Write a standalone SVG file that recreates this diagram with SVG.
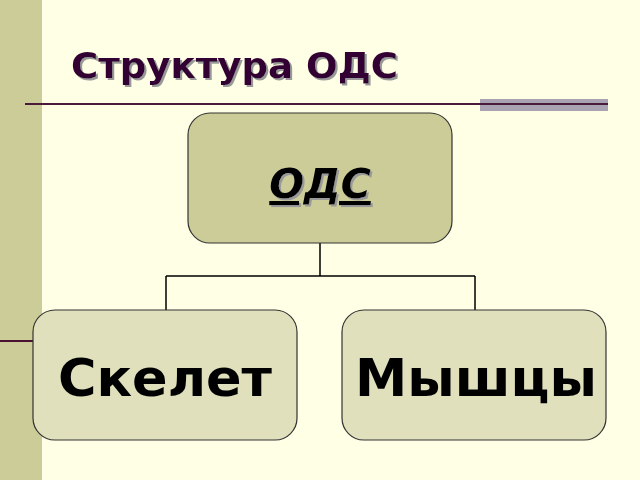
<svg xmlns="http://www.w3.org/2000/svg" width="640" height="480" viewBox="0 0 640 480">
<defs>
<filter id="ds" x="-10%" y="-20%" width="130%" height="150%">
<feOffset in="SourceAlpha" dx="2" dy="2" result="o"/>
<feFlood flood-color="#999"/>
<feComposite in2="o" operator="in" result="s"/>
<feMerge><feMergeNode in="s"/><feMergeNode in="SourceGraphic"/></feMerge>
</filter>
</defs>
<style>
.box{stroke:#333;stroke-width:1.2}
.lbl{font-family:"DejaVu Sans","Liberation Sans",sans-serif;font-weight:bold;text-anchor:middle;fill:#000}
.conn{fill:none;stroke:#000;stroke-width:1.5}
</style>
<rect width="640" height="480" fill="#FFFFE5"/>
<rect x="0" y="0" width="42" height="480" fill="#CCCC99"/>
<line x1="0" y1="341" x2="42" y2="341" stroke="#4a1030" stroke-width="2"/>
<rect x="480" y="99" width="128" height="12" fill="#A8A2B2"/>
<line x1="25" y1="104" x2="608" y2="104" stroke="#4a1a3a" stroke-width="2"/>
<g id="title">
<text x="71" y="78" filter="url(#ds)" font-family="'DejaVu Sans','Liberation Sans',sans-serif" font-weight="bold" font-size="35" fill="#330033" textLength="327" lengthAdjust="spacingAndGlyphs">Структура ОДС</text>
</g>
<g id="connectors">
<path class="conn" d="M320 243 V276 M166 276 H475 M166 276 V310 M475 276 V310"/>
</g>
<g id="n-ods">
<rect class="box" x="188" y="113" width="264" height="130" rx="22" fill="#CCCC99"/>
<text class="lbl" x="320" y="198" font-size="41" font-style="italic" text-decoration="underline" filter="url(#ds)">ОДС</text>
</g>
<g id="n-skelet">
<rect class="box" x="33" y="310" width="264" height="130" rx="22" fill="#E0E0BC"/>
<text class="lbl" x="165" y="396" font-size="52" textLength="214" lengthAdjust="spacingAndGlyphs">Скелет</text>
</g>
<g id="n-myshtsy">
<rect class="box" x="342" y="310" width="264" height="130" rx="22" fill="#E0E0BC"/>
<text class="lbl" x="476" y="396" font-size="52" textLength="242" lengthAdjust="spacingAndGlyphs">Мышцы</text>
</g>
</svg>
